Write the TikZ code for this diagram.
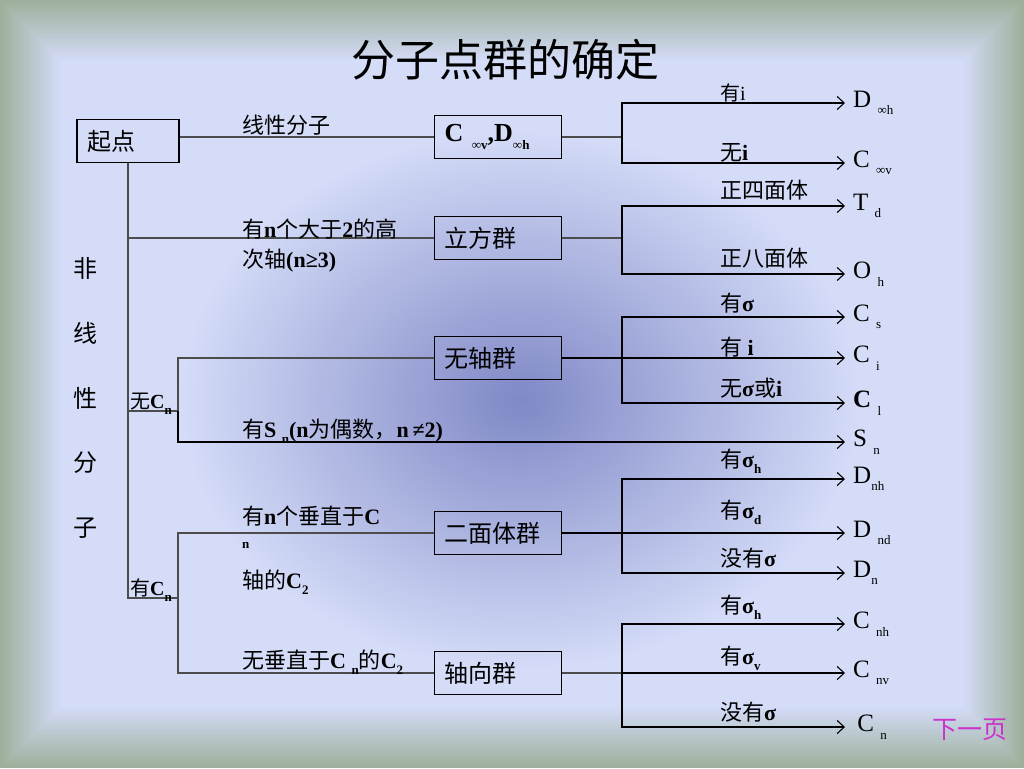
\documentclass[tikz,border=0pt]{standalone}
\usepackage{fontspec}
\setmainfont{Liberation Serif}
\newfontfamily\cjk{Noto Sans CJK SC}
\usepackage{tikz}
\usetikzlibrary{arrows.meta,positioning}
\usepackage{xcolor}
\definecolor{pgframe}{RGB}{158,176,156}
\definecolor{pgback}{RGB}{212,220,248}
\definecolor{pgblob}{RGB}{128,136,198}
\definecolor{pgmagenta}{RGB}{204,51,204}
\newcommand{\zh}[1]{{\cjk #1}}
\newcommand{\sub}[1]{\raisebox{-0.3em}{\fontsize{13}{13}\selectfont #1}}
\tikzstyle{group} = [rectangle, draw=black, line width=1.3pt, minimum height=43pt, text width=107pt, inner xsep=10pt, align=left, font=\fontsize{24}{26}\selectfont]
\tikzstyle{branch} = [line width=1.2pt, color=black!70]
\tikzstyle{arrow} = [line width=1.1pt, color=black, -{Straight Barb[length=7pt,width=13pt]}]
\tikzstyle{lbl} = [anchor=base west, inner sep=0pt, font=\fontsize{22}{24}\selectfont]
\tikzstyle{target} = [anchor=west, inner xsep=8pt, inner ysep=0pt, font=\fontsize{25}{27}\selectfont]

\begin{document}
\begin{tikzpicture}[x=1pt,y=-1pt]
\useasboundingbox (0,0) rectangle (1024,768);
% Background
\foreach \i [evaluate=\i as \p using int(5*\i)] in {0,...,20}
  \fill[pgback!\p!pgframe] (3*\i,3*\i) rectangle (1024-3*\i,768-3*\i);
\shade[inner color=pgblob, outer color=pgback] (520,400) ellipse [x radius=340pt, y radius=270pt];

% Title
\node[font=\cjk\fontsize{44}{48}\selectfont] (title) at (505,60) {分子点群的确定};

% Start and groups
\node[group, text width=82pt] (start) at (128,141) {\zh{起点}};
\node[group, font=\fontsize{26}{28}\selectfont] (cinf) at (498,137) {\textbf{C \sub{∞v},D\sub{∞h}}};
\node[group] (cubic) at (498,238) {\zh{立方群}};
\node[group] (wuzhou) at (498,358) {\zh{无轴群}};
\node[group] (dihedral) at (498,533) {\zh{二面体群}};
\node[group] (axial) at (498,673) {\zh{轴向群}};

% Side text
\foreach \c [count=\i] in {非,线,性,分,子}
  \node[font=\cjk\fontsize{24}{26}\selectfont] (side\i) at (85,203+65*\i) {\c};

% Left tree
\coordinate (ncn) at (178,411);
\coordinate (ycn) at (178,598);
\draw[branch] (start.south) |- (ycn);
\draw[branch] (start.east |- cinf.west) -- (cinf.west);
\draw[branch] (start.south |- cubic.west) -- (cubic.west);
\draw[branch] (start.south |- ncn) -- (ncn);
\draw[branch] (wuzhou.west) -| (ncn);
\draw[branch] (dihedral.west) -| (ycn) |- (axial.west);

\node[lbl] (linear) at (242,133) {\zh{线性分子}};
\node[lbl] (cubtxt) at (242,237) {\zh{有}\textbf{n}\zh{个大于}\textbf{2}\zh{的高}};
\node[lbl] (cubtxt2) at (242,267) {\zh{次轴}\textbf{(n≥3)}};
\node[lbl, font=\fontsize{20}{22}\selectfont] (ncntxt) at (130,408) {\zh{无}\textbf{C\sub{n}}};
\node[lbl] (sntxt) at (242,437) {\zh{有}\textbf{S \sub{n}(n}\zh{为偶数，}\textbf{n\,≠2)}};
\node[lbl, font=\fontsize{20}{22}\selectfont] (ycntxt) at (130,595) {\zh{有}\textbf{C\sub{n}}};
\node[lbl] (dihtxt) at (242,524) {\zh{有}\textbf{n}\zh{个垂直于}\textbf{C}};
\node[lbl, font=\fontsize{13}{13}\selectfont] (dihtxt2) at (242,548) {\textbf{n}};
\node[lbl] (dihtxt3) at (242,588) {\zh{轴的}\textbf{C\sub{2}}};
\node[lbl] (axtxt) at (242,668) {\zh{无垂直于}\textbf{C \sub{n}}\zh{的}\textbf{C\sub{2}}};

% Targets
\node[target] (dinfh) at (845,103) {D \sub{∞h}};
\node[target] (cinfv) at (845,163) {C \sub{∞v}};
\node[target] (td) at (845,206) {T \sub{d}};
\node[target] (oh) at (845,274) {O \sub{h}};
\node[target] (cs) at (845,317) {C \sub{s}};
\node[target] (ci) at (845,358) {C \sub{i}};
\node[target] (cl) at (845,403) {\textbf{C} \sub{l}};
\node[target] (sn) at (845,442) {S \sub{n}};
\node[target] (dnh) at (845,479) {D\sub{nh}};
\node[target] (dnd) at (845,533) {D \sub{nd}};
\node[target] (dn) at (845,573) {D\sub{n}};
\node[target] (cnh) at (845,624) {C \sub{nh}};
\node[target] (cnv) at (845,673) {C \sub{nv}};
\node[target] (cn) at (845,727) {\,C \sub{n}};

% Right splits
\coordinate (sa) at (622,137);
\coordinate (sb) at (622,238);
\coordinate (sc) at (622,358);
\coordinate (sd) at (622,533);
\coordinate (se) at (622,673);
\draw[branch] (cinf.east) -- (sa);
\draw[branch] (cubic.east) -- (sb);
\draw[branch] (axial.east) -- (se);
\draw[arrow] (sa) |- (dinfh.west);
\draw[arrow] (sa) |- (cinfv.west);
\draw[arrow] (sb) |- (td.west);
\draw[arrow] (sb) |- (oh.west);
\draw[arrow] (sc) |- (cs.west);
\draw[arrow] (wuzhou.east) -- (ci.west);
\draw[arrow] (sc) |- (cl.west);
\draw[arrow] (ncn) |- (sn.west);
\draw[arrow] (sd) |- (dnh.west);
\draw[arrow] (dihedral.east) -- (dnd.west);
\draw[arrow] (sd) |- (dn.west);
\draw[arrow] (se) |- (cnh.west);
\draw[arrow] (se) -- (cnv.west);
\draw[arrow] (se) |- (cn.west);

% Branch labels
\node[lbl, font=\fontsize{20}{22}\selectfont] (l1) at (720,100) {\zh{有}i};
\node[lbl] (l2) at (720,160) {\zh{无}\textbf{i}};
\node[lbl] (l3) at (720,198) {\zh{正四面体}};
\node[lbl] (l4) at (720,266) {\zh{正八面体}};
\node[lbl] (l5) at (720,311) {\zh{有}\textbf{σ}};
\node[lbl] (l6) at (720,355) {\zh{有} \textbf{i}};
\node[lbl] (l7) at (720,396) {\zh{无}\textbf{σ}\zh{或}\textbf{i}};
\node[lbl] (l8) at (720,467) {\zh{有}\textbf{σ\sub{h}}};
\node[lbl] (l9) at (720,518) {\zh{有}\textbf{σ\sub{d}}};
\node[lbl] (l10) at (720,566) {\zh{没有}\textbf{σ}};
\node[lbl] (l11) at (720,613) {\zh{有}\textbf{σ\sub{h}}};
\node[lbl] (l12) at (720,664) {\zh{有}\textbf{σ\sub{v}}};
\node[lbl] (l13) at (720,720) {\zh{没有}\textbf{σ}};

% Next page
\node[font=\cjk\fontsize{25}{27}\selectfont, text=pgmagenta] (next) at (970,730) {下一页};
\end{tikzpicture}
\end{document}
